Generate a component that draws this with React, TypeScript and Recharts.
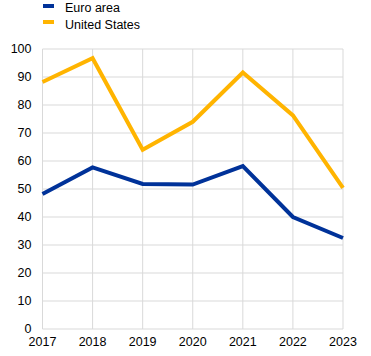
import React from "react";
import { LineChart, Line, XAxis, YAxis, CartesianGrid } from "recharts";

const years = ["2017", "2018", "2019", "2020", "2021", "2022", "2023"];
const euroArea = [48.2, 57.7, 51.8, 51.6, 58.2, 40.0, 32.5];
const unitedStates = [88.2, 96.7, 64.0, 74.0, 91.6, 76.3, 50.4];
const yTicks = [0, 10, 20, 30, 40, 50, 60, 70, 80, 90, 100];

const seriesNames = ["Euro area", "United States"];
const seriesColors = ["#003299", "#FFB400"];

const data = years.map((y, i) => ({ year: y, ea: euroArea[i], us: unitedStates[i] }));

const FONT = "Arial, 'Liberation Sans', sans-serif";
const FS = 12.5;

if (typeof document !== "undefined" && document.body) {
  document.body.style.margin = "0";
}

function LegendBox() {
  return (
    <div style={{ position: "absolute", left: 0, top: 0, width: 300, height: 40, fontFamily: FONT, fontSize: FS, color: "#000" }}>
      {seriesNames.map((n, i) => (
        <React.Fragment key={n}>
          <div
            style={{
              position: "absolute",
              left: 43,
              top: 4 + 16 * i,
              width: 11,
              height: 4,
              background: seriesColors[i],
            }}
          />
          <span
            style={{
              position: "absolute",
              left: 65,
              top: 2 + 16.5 * i,
              lineHeight: `${FS}px`,
              whiteSpace: "nowrap",
            }}
          >
            {n}
          </span>
        </React.Fragment>
      ))}
    </div>
  );
}

export default function App() {
  return (
    <div style={{ position: "relative", width: 371, height: 356 }}>
      <style>{"body{margin:0}"}</style>
      <LineChart
        width={371}
        height={356}
        data={data}
        margin={{ top: 49, right: 28, bottom: 0, left: 0 }}
      >
        <CartesianGrid stroke="#d9d9d9" strokeWidth={1} />
        <XAxis
          dataKey="year"
          height={27}
          axisLine={false}
          tickLine={false}
          tickSize={0}
          tickMargin={8}
          interval={0}
          tick={{ fill: "#000", fontSize: FS, fontFamily: FONT }}
        />
        <YAxis
          width={42.5}
          domain={[0, 100]}
          ticks={yTicks}
          axisLine={false}
          tickLine={false}
          tickSize={0}
          tickMargin={11}
          interval={0}
          tick={{ fill: "#000", fontSize: FS, fontFamily: FONT }}
        />
        <Line
          type="linear"
          dataKey="ea"
          name={seriesNames[0]}
          stroke={seriesColors[0]}
          strokeWidth={4}
          dot={false}
          activeDot={false}
          isAnimationActive={false}
        />
        <Line
          type="linear"
          dataKey="us"
          name={seriesNames[1]}
          stroke={seriesColors[1]}
          strokeWidth={4}
          dot={false}
          activeDot={false}
          isAnimationActive={false}
        />
      </LineChart>
      <LegendBox />
    </div>
  );
}
